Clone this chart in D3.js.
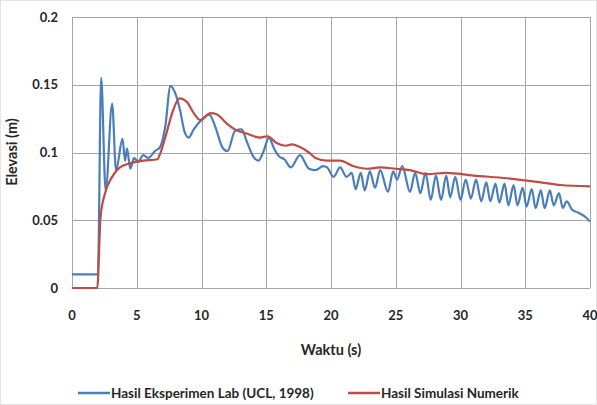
<!DOCTYPE html>
<html lang="id">
  <head>
    <meta charset="utf-8">
    <title>Elevasi vs Waktu</title>
    <script src="https://d3js.org/d3.v7.min.js"></script>
    <style>
      body { margin: 0; background: #fff; }
      text { font-family: Lato, "Open Sans", sans-serif; fill: #262626; }
      .tick-label { font-size: 13px; font-weight: bold; }
      .axis-title { font-size: 14.5px; font-weight: bold; }
      .legend-label { font-size: 13.5px; font-weight: bold; }
    </style>
  </head>
  <body>
    <div id="chart"></div>
    <script>
// tick values
var xTicks = [0, 5, 10, 15, 20, 25, 30, 35, 40];
var yTicks = [0, 0.05, 0.1, 0.15, 0.2];

// Hasil Eksperimen Lab (UCL, 1998)
var labTime = [0, 2.0, 2.25, 2.6, 3.1, 3.4, 3.9, 4.1, 4.25, 4.5, 4.8, 5.1, 5.5, 5.9, 6.4, 6.8, 7.2, 7.6, 8.0, 8.35,
  8.7, 9.0, 9.4, 9.9, 10.6, 11.1, 11.6, 12.0, 12.6, 13.1, 13.5, 14.0, 14.4, 14.8, 15.2, 15.6, 16.0, 16.4, 16.9, 17.6,
  18.3, 18.8, 19.4, 19.7, 20.2, 20.7, 21.2, 21.6, 21.9, 22.3, 22.6, 23.0, 23.4, 23.8, 24.4, 24.8, 25.1, 25.5, 26.1, 26.5,
  26.9, 27.3, 27.7, 28.1, 28.5, 28.9, 29.2, 29.6, 30.0, 30.4, 30.8, 31.2, 31.6, 32.0, 32.3, 32.7, 33.0, 33.4, 33.7, 34.1,
  34.4, 34.8, 35.1, 35.5, 35.8, 36.2, 36.5, 36.9, 37.2, 37.6, 37.9, 38.2, 38.6, 39.0, 39.4, 39.7, 40];
var labElev = [0.01, 0.01, 0.155, 0.072, 0.136, 0.087, 0.110, 0.094, 0.103, 0.088, 0.096, 0.093, 0.098, 0.096, 0.101, 0.104, 0.119, 0.149, 0.143, 0.131,
  0.115, 0.111, 0.117, 0.123, 0.128, 0.118, 0.104, 0.101, 0.116, 0.117, 0.108, 0.097, 0.094, 0.101, 0.111, 0.103, 0.097, 0.095, 0.089, 0.098,
  0.088, 0.087, 0.090, 0.089, 0.082, 0.089, 0.082, 0.085, 0.073, 0.085, 0.072, 0.086, 0.074, 0.087, 0.071, 0.086, 0.080, 0.090, 0.071, 0.085,
  0.070, 0.085, 0.065, 0.083, 0.065, 0.083, 0.067, 0.082, 0.065, 0.080, 0.066, 0.080, 0.064, 0.078, 0.064, 0.077, 0.063, 0.077, 0.061, 0.076,
  0.061, 0.074, 0.060, 0.073, 0.059, 0.072, 0.059, 0.072, 0.061, 0.070, 0.059, 0.064, 0.058, 0.056, 0.054, 0.052, 0.049];

// Hasil Simulasi Numerik
var simTime = [0, 1.95, 2.2, 2.55, 3.1, 3.7, 4.5, 5.5, 6.6, 6.8, 7.2, 7.8, 8.3, 8.9, 9.4, 9.9, 10.7, 11.2, 12.0, 12.8,
  13.5, 14.5, 15.1, 15.8, 16.5, 17.0, 17.6, 18.3, 18.8, 19.7, 20.7, 21.7, 22.8, 23.8, 25.0, 26.1, 27.4, 28.9, 31.0, 33.6,
  36.2, 37.7, 40];
var simElev = [0, 0, 0.052, 0.070, 0.082, 0.089, 0.092, 0.094, 0.095, 0.099, 0.111, 0.131, 0.140, 0.137, 0.129, 0.124, 0.129, 0.128, 0.121, 0.116,
  0.114, 0.111, 0.112, 0.107, 0.105, 0.106, 0.104, 0.100, 0.096, 0.094, 0.094, 0.090, 0.088, 0.089, 0.088, 0.087, 0.084, 0.085, 0.083, 0.081,
  0.078, 0.076, 0.075];

var seriesNames = ["Hasil Eksperimen Lab (UCL, 1998)", "Hasil Simulasi Numerik"];
var seriesColors = ["#4a7ebb", "#be4b48"];

// view size and plot box
var w_view = 597, h_view = 405;
var m = {top: 17, right: 7, bottom: 117, left: 72};

var svg = d3.select("#chart")
            .append("svg")
            .attr("width", w_view)
            .attr("height", h_view);

// faint outer frame
svg.append("rect")
   .attr("x", 0.5).attr("y", 0.5)
   .attr("width", w_view - 1).attr("height", h_view - 1)
   .style("fill", "none")
   .style("stroke", "#e4e4e4");

var x = d3.scaleLinear().domain([0, 40]).range([m.left, w_view - m.right]);
var y = d3.scaleLinear().domain([0, 0.2]).range([h_view - m.bottom, m.top]);

// grid
var grid = svg.append("g").style("stroke", "#a6a6a6").style("stroke-width", 1);
grid.selectAll("line.v")
    .data(xTicks)
    .join("line")
    .attr("class", "v")
    .attr("x1", d => Math.round(x(d)) + 0.5).attr("x2", d => Math.round(x(d)) + 0.5)
    .attr("y1", y(0.2)).attr("y2", y(0));
grid.selectAll("line.h")
    .data(yTicks)
    .join("line")
    .attr("class", "h")
    .attr("x1", x(0)).attr("x2", x(40))
    .attr("y1", d => Math.round(y(d)) + 0.5).attr("y2", d => Math.round(y(d)) + 0.5);

// tick labels
svg.append("g")
   .selectAll("text")
   .data(yTicks)
   .join("text")
   .attr("class", "tick-label")
   .attr("x", x(0) - 14)
   .attr("y", d => y(d))
   .attr("dy", "0.35em")
   .style("text-anchor", "end")
   .text(d => d);

svg.append("g")
   .selectAll("text")
   .data(xTicks)
   .join("text")
   .attr("class", "tick-label")
   .attr("x", d => x(d))
   .attr("y", y(0) + 32)
   .style("text-anchor", "middle")
   .text(d => d);

// axis titles
svg.append("text")
   .attr("class", "axis-title")
   .attr("x", 331)
   .attr("y", 355)
   .style("text-anchor", "middle")
   .text("Waktu (s)");

svg.append("text")
   .attr("class", "axis-title")
   .attr("transform", "translate(17,152) rotate(-90)")
   .style("text-anchor", "middle")
   .text("Elevasi (m)");

// lines
var line = d3.line()
             .x(d => x(d[0]))
             .y(d => y(d[1]))
             .curve(d3.curveMonotoneX);

var labData = labTime.map((t, i) => [t, labElev[i]]);
var simData = simTime.map((t, i) => [t, simElev[i]]);

svg.append("path")
   .datum(labData)
   .attr("d", line)
   .style("fill", "none")
   .style("stroke", seriesColors[0])
   .style("stroke-width", 2.2);

svg.append("path")
   .datum(simData)
   .attr("d", line)
   .style("fill", "none")
   .style("stroke", seriesColors[1])
   .style("stroke-width", 2.2);

// legend
var legendX = [78, 348];
var legend = svg.append("g")
                .selectAll("g")
                .data(seriesNames)
                .join("g")
                .attr("transform", (d, i) => "translate(" + legendX[i] + ",393)");
legend.append("line")
      .attr("x1", 0).attr("x2", 32)
      .style("stroke", (d, i) => seriesColors[i])
      .style("stroke-width", 2.5);
legend.append("text")
      .attr("class", "legend-label")
      .attr("x", 33)
      .attr("dy", "0.35em")
      .text(d => d);
    </script>
  </body>
</html>
